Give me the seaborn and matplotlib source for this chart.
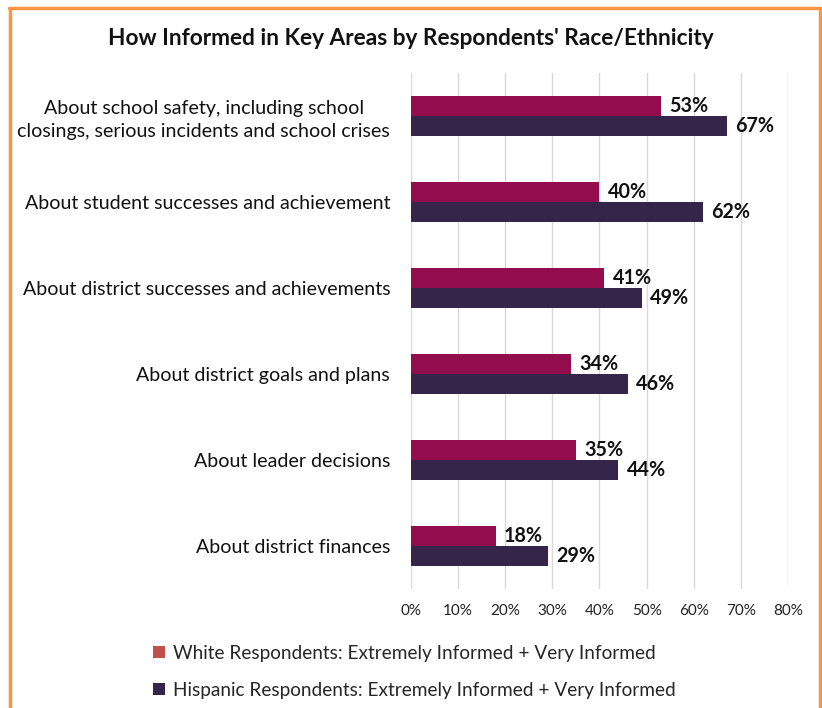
import matplotlib
matplotlib.use("Agg")
import matplotlib.pyplot as plt
from matplotlib.lines import Line2D
from matplotlib.patches import Patch
from matplotlib.ticker import FuncFormatter
import seaborn as sns
import pandas as pd

categories = [
    "About school safety, including school\nclosings, serious incidents and school crises",
    "About student successes and achievement",
    "About district successes and achievements",
    "About district goals and plans",
    "About leader decisions",
    "About district finances",
]
white_values = [53, 40, 41, 34, 35, 18]
hispanic_values = [67, 62, 49, 46, 44, 29]
series_names = [
    "White Respondents: Extremely Informed + Very Informed",
    "Hispanic Respondents: Extremely Informed + Very Informed",
]
x_ticks = [0, 10, 20, 30, 40, 50, 60, 70, 80]

bar_colors = ["#930D4E", "#35254A"]
legend_colors = ["#C0504D", "#35254A"]

df = pd.DataFrame({
    "Area": categories * 2,
    "Percent": white_values + hispanic_values,
    "Group": [series_names[0]] * len(categories) + [series_names[1]] * len(categories),
})

sns.set_theme(style="white")
plt.rcParams["font.family"] = ["Lato", "DejaVu Sans"]

fig = plt.figure(figsize=(8.22, 7.08), dpi=100)
ax = fig.add_axes([0.5, 0.168, 0.4586, 0.729])

sns.barplot(data=df, y="Area", x="Percent", hue="Group", orient="h",
            palette=bar_colors, width=0.47, saturation=1, ax=ax,
            legend=False, errorbar=None, linewidth=0)

ax.set_xlim(0, 80)
ax.set_xticks(x_ticks)
ax.xaxis.set_major_formatter(FuncFormatter(lambda v, p: f"{int(v)}%"))
ax.grid(axis="x", color="#D9D9D9", linewidth=1)
ax.set_axisbelow(True)
for s in ax.spines.values():
    s.set_visible(False)
ax.set_xlabel("")
ax.set_ylabel("")
ax.tick_params(axis="x", labelsize=11, colors="#222222", pad=11, length=0)
ax.tick_params(axis="y", labelsize=14.1, colors="#111111", pad=15, length=0)
for lbl in ax.get_yticklabels():
    lbl.set_horizontalalignment("right")
    lbl.set_multialignment("center")
    lbl.set_linespacing(1.4)

for cont in ax.containers:
    ax.bar_label(cont, labels=[f"{int(v)}%" for v in cont.datavalues],
                 padding=6, fontsize=14.2, fontweight="bold", color="#111111")

fig.text(0.5, 0.945, "How Informed in Key Areas by Respondents' Race/Ethnicity",
         ha="center", va="center", fontsize=16.3, fontweight="bold", color="#111111")

handles = [Patch(facecolor=c, edgecolor="none") for c in legend_colors]
fig.legend(handles, series_names, loc="upper left", bbox_to_anchor=(0.174, 0.103),
           frameon=False, fontsize=13.7, handlelength=0.65, handleheight=0.65,
           handletextpad=0.4, labelspacing=1.05, borderpad=0)

# orange frame around the chart
oc = "#F79646"
fig.add_artist(Line2D([0.012, 0.012], [0.0, 0.988], color=oc, lw=2.5, transform=fig.transFigure))
fig.add_artist(Line2D([0.011, 0.998], [0.988, 0.988], color=oc, lw=2.5, transform=fig.transFigure))
fig.add_artist(Line2D([0.997, 0.997], [0.0, 0.988], color=oc, lw=2.5, transform=fig.transFigure))

fig.savefig("out.png", dpi=100)
